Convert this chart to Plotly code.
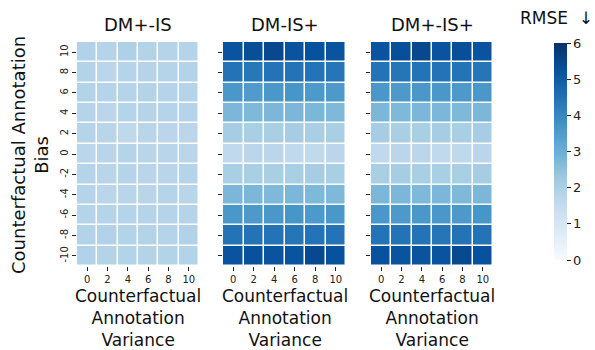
import plotly.graph_objects as go

variance = [0, 2, 4, 6, 8, 10]
bias = [-10, -8, -6, -4, -2, 0, 2, 4, 6, 8, 10]
titles = ["DM+-IS", "DM-IS+", "DM+-IS+"]

# RMSE grids, rows ordered by bias from -10 up to 10
rmse_dm_pm_is = [
    [1.90, 1.85, 1.85, 1.85, 1.85, 1.85],
    [1.85, 1.90, 1.85, 1.85, 1.80, 1.90],
    [1.80, 1.80, 1.80, 1.80, 1.80, 1.80],
    [1.80, 1.70, 1.75, 1.75, 1.80, 1.75],
    [1.80, 1.75, 1.80, 1.75, 1.75, 1.80],
    [1.70, 1.75, 1.80, 1.75, 1.75, 1.70],
    [1.80, 1.75, 1.65, 1.75, 1.70, 1.70],
    [1.80, 1.70, 1.80, 1.80, 1.80, 1.80],
    [1.85, 1.80, 1.80, 1.85, 1.80, 1.80],
    [1.85, 1.70, 1.80, 1.80, 1.80, 1.85],
    [1.90, 1.80, 1.95, 1.85, 1.80, 1.80],
]
rmse_dm_is_p = [
    [5.20, 5.25, 5.20, 5.20, 5.45, 5.25],
    [4.45, 4.45, 4.45, 4.40, 4.45, 4.45],
    [3.60, 3.55, 3.60, 3.65, 3.55, 3.60],
    [2.75, 2.75, 2.70, 2.75, 2.70, 2.70],
    [2.05, 2.05, 2.05, 2.05, 2.10, 2.05],
    [1.60, 1.70, 1.70, 1.60, 1.60, 1.70],
    [2.10, 2.05, 2.05, 2.10, 2.05, 2.05],
    [2.75, 2.70, 2.75, 2.75, 2.75, 2.70],
    [3.60, 3.50, 3.60, 3.65, 3.55, 3.55],
    [4.45, 4.35, 4.45, 4.45, 4.45, 4.40],
    [5.20, 5.30, 5.45, 5.20, 5.25, 5.20],
]
rmse_dm_pm_is_p = [
    [5.25, 5.20, 5.20, 5.20, 5.45, 5.25],
    [4.45, 4.45, 4.45, 4.40, 4.45, 4.45],
    [3.60, 3.55, 3.60, 3.60, 3.55, 3.65],
    [2.75, 2.75, 2.70, 2.75, 2.70, 2.75],
    [2.05, 2.10, 2.05, 2.05, 2.05, 2.10],
    [1.60, 1.70, 1.70, 1.60, 1.65, 1.70],
    [2.10, 2.05, 2.05, 2.10, 2.05, 2.10],
    [2.75, 2.70, 2.75, 2.75, 2.70, 2.75],
    [3.60, 3.55, 3.60, 3.60, 3.55, 3.60],
    [4.45, 4.40, 4.45, 4.45, 4.45, 4.40],
    [5.20, 5.30, 5.45, 5.20, 5.30, 5.20],
]
grids = [rmse_dm_pm_is, rmse_dm_is_p, rmse_dm_pm_is_p]

blues = [
    [0.0, "#f7fbff"], [0.125, "#deebf7"], [0.25, "#c6dbef"],
    [0.375, "#9ecae1"], [0.5, "#6baed6"], [0.625, "#4292c6"],
    [0.75, "#2171b5"], [0.875, "#08519c"], [1.0, "#08306b"],
]

W, H = 595, 350
FONT = "DejaVu Sans"
x_px = [(77, 199), (223, 346), (371, 493)]
y_top, y_bot = 42, 266


def label(x, y, text, size, angle=0):
    fig.add_annotation(
        x=x / W, y=1 - y / H, xref="paper", yref="paper",
        xanchor="center", yanchor="middle", text=text, textangle=angle,
        showarrow=False, font=dict(family=FONT, size=size, color="#111"),
    )


fig = go.Figure()
for i, (grid, (x0, x1)) in enumerate(zip(grids, x_px)):
    sfx = "" if i == 0 else str(i + 1)
    fig.add_trace(go.Heatmap(
        z=grid, x=variance, y=bias,
        zmin=0, zmax=6, colorscale=blues,
        xgap=1.5, ygap=1.5,
        showscale=(i == 0),
        xaxis="x" + sfx, yaxis="y" + sfx,
        colorbar=dict(
            x=554 / W, xanchor="left", xpad=0, ypad=0, thickness=13,
            len=217, lenmode="pixels", y=1 - 43 / H, yanchor="top",
            outlinewidth=0, tickvals=[0, 1, 2, 3, 4, 5, 6],
            ticks="outside", ticklen=4, tickcolor="#222",
            tickfont=dict(family=FONT, size=13, color="#222"),
        ),
        hoverinfo="skip",
    ))
    fig.layout["xaxis" + sfx] = dict(
        domain=[x0 / W, x1 / W], anchor="y" + sfx,
        tickvals=variance, ticktext=[str(v) for v in variance],
        ticks="outside", ticklen=4, tickcolor="#222",
        tickfont=dict(family=FONT, size=10, color="#222"),
        showgrid=False, zeroline=False, showline=False, fixedrange=True,
    )
    fig.layout["yaxis" + sfx] = dict(
        domain=[1 - y_bot / H, 1 - y_top / H], anchor="x" + sfx,
        tickvals=bias, ticktext=[str(b) for b in bias] if i == 0 else [""] * len(bias),
        tickangle=-90,
        ticks="outside", ticklen=4, tickcolor="#222",
        tickfont=dict(family=FONT, size=10, color="#222"),
        showgrid=False, zeroline=False, showline=False, fixedrange=True,
    )
    cx = (x0 + x1) / 2
    label(cx, 25, titles[i], 18)
    label(cx, 318, "Counterfactual<br>Annotation<br>Variance", 17)

label(30, 155, "Counterfactual Annotation<br>Bias", 18, angle=-90)
label(556, 18, "RMSE  ↓", 17)

fig.update_layout(
    width=W, height=H,
    margin=dict(l=0, r=0, t=0, b=0),
    paper_bgcolor="white", plot_bgcolor="white",
    showlegend=False,
)
fig.write_html("out.html")
